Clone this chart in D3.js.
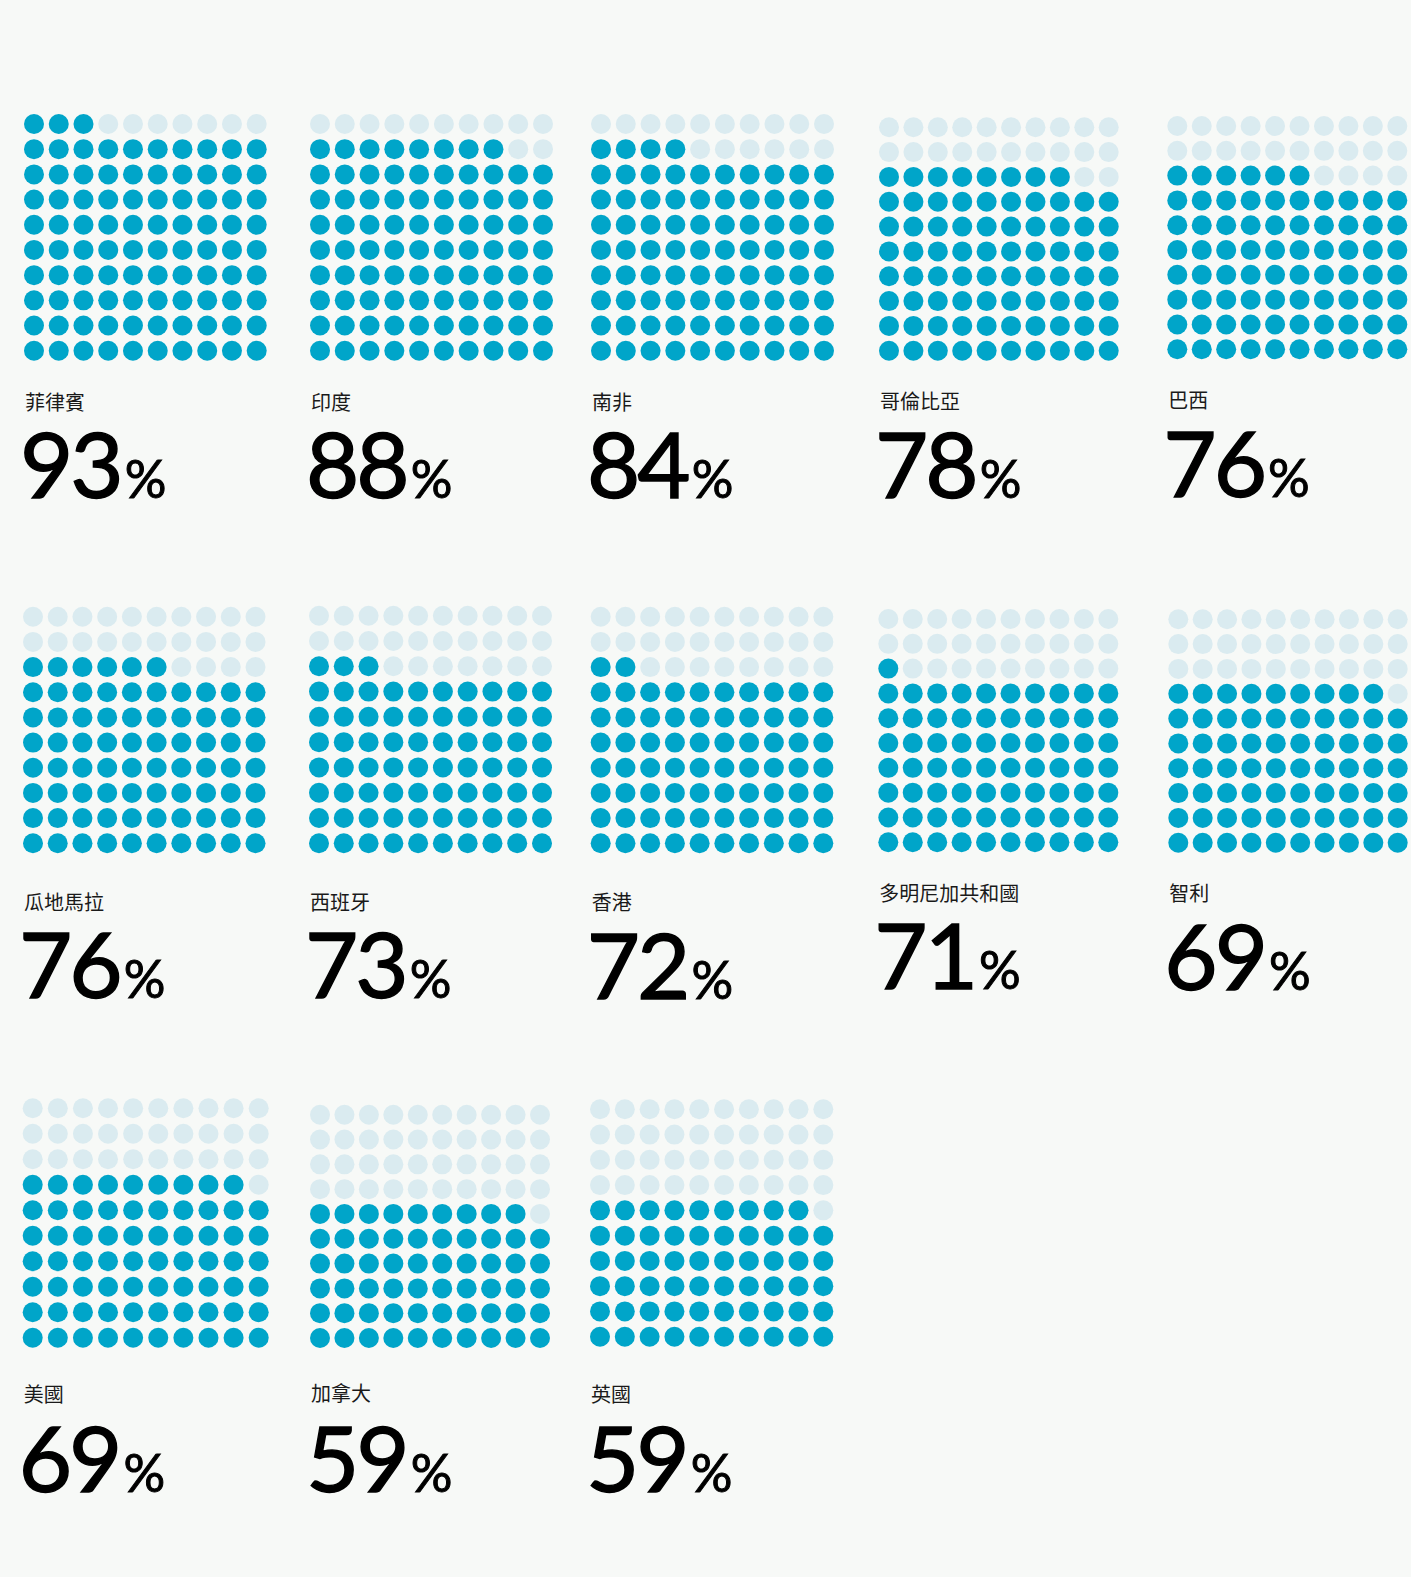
<!DOCTYPE html>
<html>
<head>
<meta charset="utf-8">
<script src="https://cdn.jsdelivr.net/npm/d3@7"></script>
<style>
  html, body { margin: 0; padding: 0; background: #f7f9f7; }
  svg { display: block; }
  .label { font-family: "Noto Sans CJK TC", "Noto Sans", sans-serif; font-size: 20px; fill: #1a1a1a; }
  .num { font-family: Lato, "Open Sans", sans-serif; font-size: 92px; fill: #000;
         stroke: #000; stroke-width: 1.4px; letter-spacing: -3px; }
  .pct { font-size: 52px; letter-spacing: 0; stroke-width: 1px; }
</style>
</head>
<body>
<svg id="chart" width="1411" height="1577"></svg>
<script>
// data
const countries = ["菲律賓", "印度", "南非", "哥倫比亞", "巴西",
                   "瓜地馬拉", "西班牙", "香港", "多明尼加共和國", "智利",
                   "美國", "加拿大", "英國"];
const values = [93, 88, 84, 78, 76, 76, 73, 72, 71, 69, 69, 59, 59];

// layout per panel: grid x0, x1, y0, y1, label baseline, number baseline
const layout = [
  [34, 256.7, 124, 350.7, 410, 498],
  [320, 543, 124, 350.7, 410, 498],
  [601, 824, 124, 350.7, 410, 498],
  [889, 1108.7, 127.3, 350.7, 409, 498],
  [1177.3, 1397.3, 126, 349.3, 408, 497],
  [33, 255.5, 616.7, 843.3, 910, 998],
  [319, 542, 615.7, 843.3, 910, 998],
  [600.7, 823.3, 616.7, 843.3, 910, 999],
  [888.3, 1108.3, 619, 842.3, 901, 989],
  [1178.3, 1397.7, 619.3, 842.7, 901, 990],
  [32.7, 258.7, 1108.3, 1337.7, 1402, 1492],
  [320, 540, 1114.7, 1338, 1401, 1492],
  [600, 823.3, 1109.3, 1336.7, 1402, 1492]
];

const filledColor = "#00a5c9";
const emptyColor = "#daebf0";
const r = 10;

const svg = d3.select("#chart");
const idx = d3.range(10);

countries.forEach(function (name, i) {
  const v = values[i];
  const L = layout[i];
  const x = d3.scalePoint().domain(idx).range([L[0], L[1]]);
  const y = d3.scalePoint().domain(idx).range([L[2], L[3]]);

  // fill from the bottom row upwards, partial row left-aligned
  const fullRows = Math.floor(v / 10);
  const rest = v % 10;
  const cells = d3.range(100).map(function (k) {
    const row = Math.floor(k / 10), col = k % 10;
    const fromBottom = 9 - row;
    const on = fromBottom < fullRows || (fromBottom === fullRows && col < rest);
    return { row: row, col: col, on: on };
  });

  const g = svg.append("g").attr("class", "panel");

  g.selectAll("circle")
    .data(cells)
    .enter().append("circle")
    .attr("cx", d => x(d.col))
    .attr("cy", d => y(d.row))
    .attr("r", r)
    .attr("fill", d => d.on ? filledColor : emptyColor);

  g.append("text")
    .attr("class", "label")
    .attr("x", L[0] - r + 1)
    .attr("y", L[4])
    .text(name);

  const t = g.append("text")
    .attr("class", "num")
    .attr("x", L[0] - r - 4)
    .attr("y", L[5]);
  t.append("tspan").text(v);
  t.append("tspan").attr("class", "pct").attr("dx", 4).text("%");
});
</script>
</body>
</html>
